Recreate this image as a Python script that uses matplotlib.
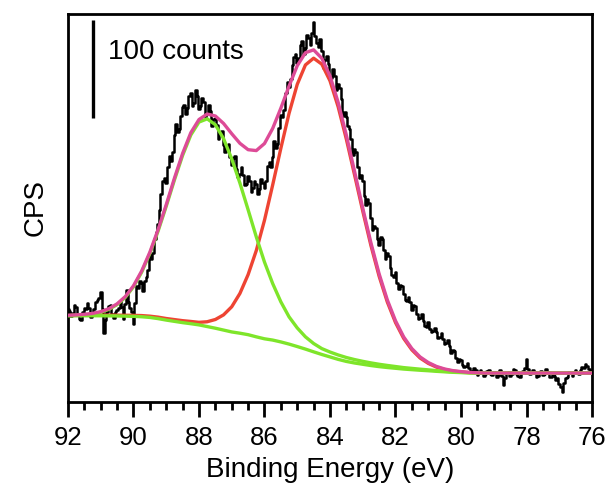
import numpy as np
import matplotlib
matplotlib.use("Agg")
import matplotlib.pyplot as plt
from matplotlib.ticker import MultipleLocator

plt.rcParams["font.family"] = ["Liberation Sans", "DejaVu Sans"]

# measured spectrum, 0.05 eV steps from 92 eV down to 76 eV
energy = np.linspace(92.0, 76.0, 321)
counts = [
    95, 93, 88, 91, 99, 97, 90, 85, 84, 92, 96, 95, 101, 96, 87, 89, 95, 102, 104, 106,
    112, 95, 70, 84, 92, 98, 99, 90, 86, 92, 94, 96, 103, 97, 85, 100, 114, 102, 96, 92,
    80, 101, 118, 116, 124, 121, 113, 124, 128, 135, 150, 146, 152, 166, 174, 182, 196, 212, 226, 229,
    224, 240, 251, 246, 255, 273, 284, 276, 279, 292, 301, 303, 294, 300, 312, 315, 302, 305, 318, 312,
    299, 302, 310, 306, 291, 294, 303, 297, 282, 289, 290, 283, 268, 276, 277, 262, 255, 261, 263, 250,
    242, 249, 251, 238, 230, 233, 240, 232, 221, 223, 231, 226, 214, 218, 226, 222, 212, 217, 228, 224,
    218, 226, 241, 245, 240, 250, 266, 259, 263, 280, 293, 291, 298, 315, 327, 322, 330, 344, 352, 355,
    346, 351, 364, 368, 355, 361, 375, 372, 364, 377, 388, 374, 366, 362, 370, 358, 341, 349, 353, 345,
    332, 331, 340, 333, 318, 325, 320, 309, 292, 296, 291, 282, 279, 268, 252, 258, 255, 240, 229, 232,
    226, 210, 201, 207, 203, 188, 176, 180, 178, 166, 160, 168, 166, 155, 146, 152, 149, 137, 130, 128,
    133, 121, 115, 119, 118, 110, 104, 103, 107, 102, 94, 99, 98, 90, 85, 86, 90, 83, 78, 77,
    82, 75, 71, 72, 76, 71, 65, 66, 70, 64, 59, 60, 63, 57, 50, 53, 52, 45, 41, 44,
    43, 38, 36, 37, 40, 35, 32, 31, 35, 33, 28, 30, 33, 31, 27, 29, 32, 33, 29, 28,
    31, 30, 26, 28, 33, 27, 17, 24, 30, 31, 27, 29, 34, 33, 29, 27, 25, 30, 32, 35,
    44, 34, 29, 30, 33, 31, 26, 27, 31, 32, 28, 29, 34, 31, 25, 26, 30, 27, 22, 24,
    18, 15, 10, 19, 24, 26, 31, 30, 27, 31, 33, 30, 29, 33, 36, 35, 39, 37, 34, 31,
    32,
]

# fit curves, 0.25 eV steps from 92 eV down to 76 eV
fit_energy = np.linspace(92.0, 76.0, 65)
background = [
    88.0, 88.0, 88.0, 88.0, 88.0, 87.9, 87.8, 87.6, 87.4, 87.0,
    86.3, 85.1, 83.6, 82.3, 81.0, 79.9, 78.7, 77.0, 75.3, 73.4,
    71.5, 70.2, 68.7, 66.5, 64.5, 63.2, 61.3, 59.1, 56.6, 54.0,
    51.2, 48.5, 46.0, 43.5, 41.4, 39.8, 38.5, 37.2, 36.1, 35.2,
    34.4, 33.6, 33.0, 32.4, 31.9, 31.3, 30.8, 30.3, 30.0, 29.7,
    29.5, 29.5, 29.5, 29.5, 29.5, 29.5, 29.5, 29.5, 29.5, 29.5,
    29.5, 29.5, 29.5, 29.5, 29.5,
]
peak_88 = [
    88.2, 88.5, 89.0, 89.9, 91.6, 94.5, 99.4, 106.7, 117.6, 132.5,
    151.6, 174.3, 199.8, 226.6, 251.7, 272.5, 285.7, 289.0, 283.0, 268.8,
    248.1, 223.4, 196.2, 168.5, 142.8, 120.9, 102.2, 86.9, 75.6, 66.5,
    59.7, 54.5, 51.0, 48.0, 45.4, 43.3, 41.5, 39.9, 38.5, 37.3,
    36.2, 35.1, 34.3, 33.5, 32.8, 32.0, 31.3, 30.7, 30.3, 29.9,
    29.6, 29.5, 29.5, 29.5, 29.5, 29.5, 29.5, 29.5, 29.5, 29.5,
    29.5, 29.5, 29.5, 29.5, 29.5,
]
peak_84 = [
    88.3, 88.4, 88.5, 88.5, 88.6, 88.6, 88.6, 88.5, 88.4, 88.2,
    87.6, 86.6, 85.2, 84.1, 83.0, 82.2, 81.3, 81.9, 84.2, 88.9,
    97.2, 110.8, 130.0, 154.6, 185.5, 221.5, 259.0, 294.6, 324.2, 344.0,
    350.9, 344.8, 327.8, 301.2, 268.2, 231.8, 194.9, 159.7, 128.4, 102.1,
    81.1, 64.9, 53.2, 44.9, 39.4, 35.6, 33.2, 31.6, 30.7, 30.0,
    29.7, 29.5, 29.5, 29.5, 29.5, 29.5, 29.5, 29.5, 29.5, 29.5,
    29.5, 29.5, 29.5, 29.5, 29.5,
]
envelope = [
    88.5, 88.9, 89.5, 90.4, 92.2, 95.2, 100.2, 107.6, 118.6, 133.7,
    152.9, 175.8, 201.4, 228.4, 253.7, 274.8, 288.3, 293.9, 291.9, 284.3,
    273.8, 264.0, 257.5, 256.6, 263.8, 279.2, 299.9, 322.4, 343.2, 356.5,
    359.4, 350.8, 332.8, 305.7, 272.2, 235.3, 197.9, 162.4, 130.8, 104.2,
    82.9, 66.4, 54.5, 46.0, 40.3, 36.3, 33.7, 32.0, 31.0, 30.2,
    29.8, 29.5, 29.5, 29.5, 29.5, 29.5, 29.5, 29.5, 29.5, 29.5,
    29.5, 29.5, 29.5, 29.5, 29.5,
]

scale_bar = (290, 390)   # 100 counts
x_ticks = [92, 90, 88, 86, 84, 82, 80, 78, 76]

fig = plt.figure(figsize=(6.08, 4.93), dpi=100)
ax = fig.add_axes([0.1118, 0.1846, 0.8619, 0.787])

ax.plot(energy, counts, color="black", lw=1.8, drawstyle="steps-mid", zorder=1)
ax.plot(fit_energy, peak_84, color="#EE4433", lw=2.4, zorder=2)
ax.plot(fit_energy, background, color="#7EE52A", lw=2.4, zorder=3)
ax.plot(fit_energy, peak_88, color="#7EE52A", lw=2.4, zorder=3)
ax.plot(fit_energy, envelope, color="#DD4B97", lw=2.4, zorder=4)

# scale bar
ax.plot([91.24, 91.24], scale_bar, color="black", lw=2.4, solid_capstyle="butt")
ax.text(90.78, 357, "100 counts", fontsize=20, ha="left", va="center")

ax.set_xlim(92, 76)
ax.set_ylim(0, 396)
ax.set_xticks(x_ticks)
ax.xaxis.set_minor_locator(MultipleLocator(0.5))
ax.set_yticks([])
ax.tick_params(axis="x", which="major", direction="out", length=11, width=2,
               labelsize=18.5, pad=6)
ax.tick_params(axis="x", which="minor", direction="out", length=5.5, width=2)
for s in ax.spines.values():
    s.set_linewidth(2)

ax.set_xlabel("Binding Energy (eV)", fontsize=20, labelpad=5)
ax.set_ylabel("CPS", fontsize=20, labelpad=14)

fig.savefig("out.png", dpi=100)
